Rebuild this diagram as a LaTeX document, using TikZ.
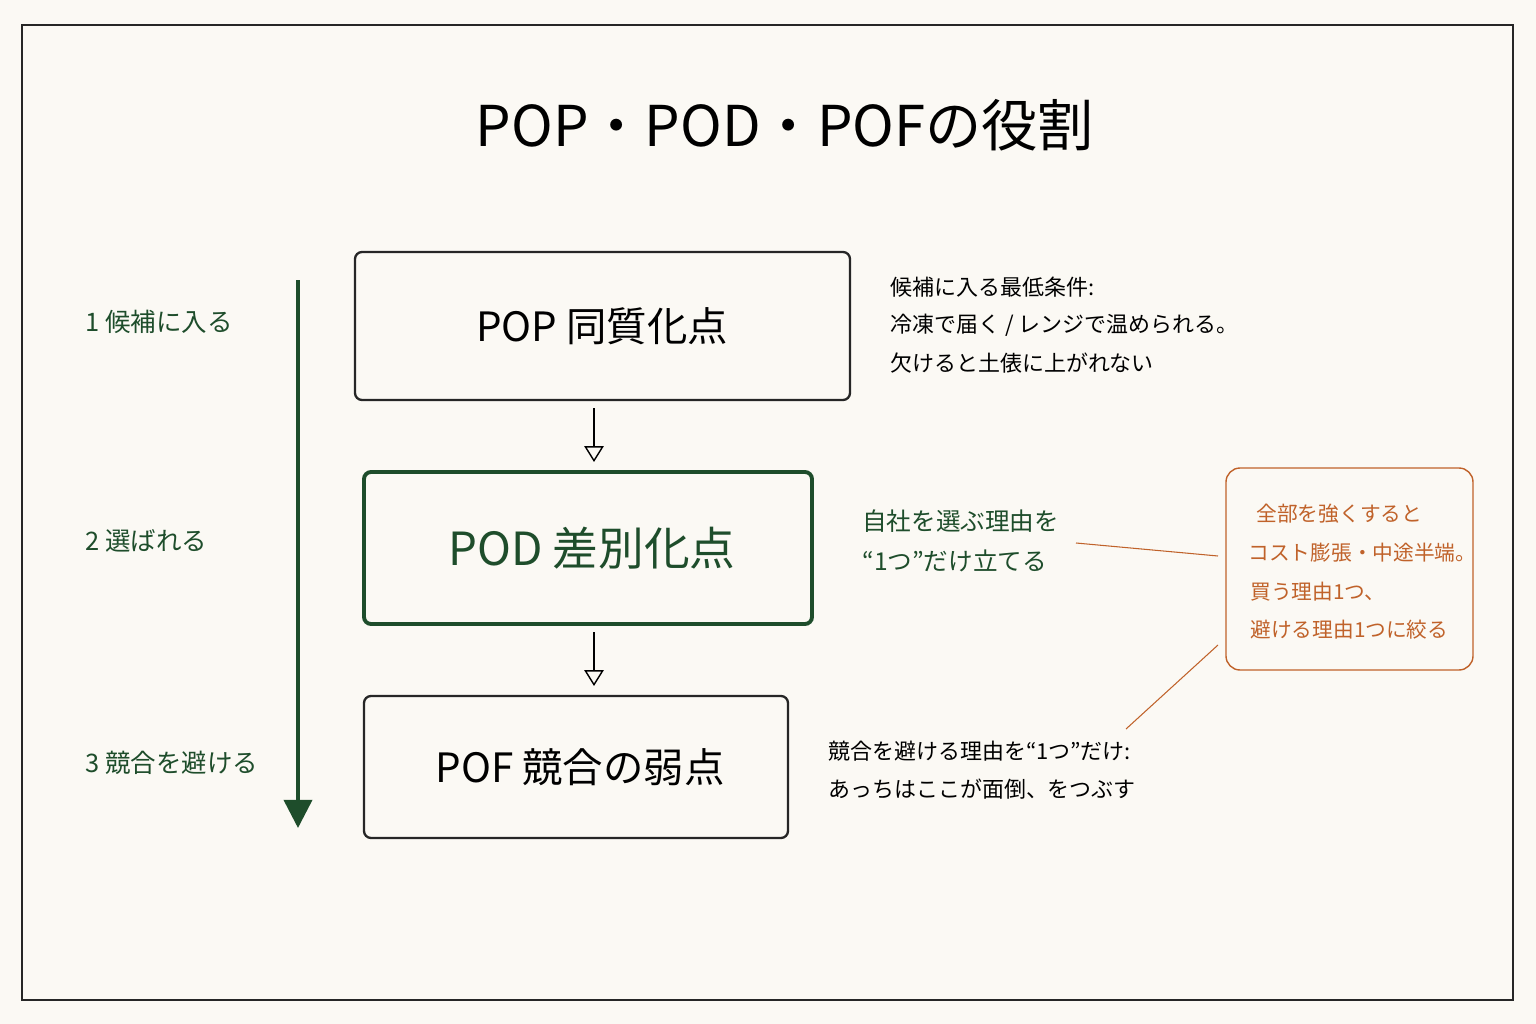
\documentclass[tikz,border=0pt]{standalone}
\usepackage{fontspec}
\setmainfont{Noto Sans CJK JP}
\usetikzlibrary{arrows.meta}
\definecolor{dkgreen}{HTML}{1E4D2B}
\definecolor{rust}{HTML}{C0622A}
\definecolor{paper}{HTML}{FBF9F4}
\tikzset{
  box/.style={draw=black!85, line width=1.3pt, rounded corners=4pt},
  desc/.style={anchor=west, font=\fontsize{12.5}{15}\selectfont, inner sep=0pt},
  note/.style={anchor=west, font=\fontsize{11.8}{14}\selectfont, text=rust, inner sep=0pt},
  stage/.style={anchor=west, font=\fontsize{14.5}{18}\selectfont, text=dkgreen, inner sep=0pt},
  flow/.style={-{Triangle[open,length=9pt,width=11pt]}, line width=0.8pt}
}
\begin{document}
\begin{tikzpicture}[x=0.02cm,y=-0.02cm]
    % Background and frame
    \fill[paper] (0,0) rectangle (1536,1024);
    \useasboundingbox (0,0) rectangle (1536,1024);
    \draw[black!85, line width=0.8pt] (22,25) rectangle (1513,1000);

    % Title
    \node (title) at (785,125) {\fontsize{32}{36}\selectfont POP・POD・POFの役割};

    % Main boxes
    \draw[box] (355,252) rectangle (850,400);
    \node (pop) at (602,326) {\fontsize{23}{26}\selectfont POP 同質化点};
    \draw[box, draw=dkgreen, line width=2.2pt] (364,472) rectangle (812,624);
    \node[text=dkgreen] (pod) at (592,548) {\fontsize{26}{28}\selectfont POD 差別化点};
    \draw[box] (364,696) rectangle (788,838);
    \node (pof) at (580,767) {\fontsize{23}{26}\selectfont POF 競合の弱点};

    % Connectors between boxes
    \coordinate (a1) at (594,408); \coordinate (b1) at (594,462);
    \coordinate (a2) at (594,632); \coordinate (b2) at (594,686);
    \draw[flow] (a1) -- (b1);
    \draw[flow] (a2) -- (b2);

    % Stage arrow
    \coordinate (s0) at (298,280); \coordinate (s1) at (298,828);
    \draw[dkgreen, line width=2pt, -{Triangle[length=16pt,width=16pt]}] (s0) -- (s1);
    \node[stage] (st1) at (85,322) {1 候補に入る};
    \node[stage] (st2) at (85,541) {2 選ばれる};
    \node[stage] (st3) at (85,763) {3 競合を避ける};

    % Descriptions
    \node[desc] (d1) at (890,287) {候補に入る最低条件:};
    \node[desc] (d2) at (890,325) {冷凍で届く / レンジで温められる。};
    \node[desc] (d3) at (890,363) {欠けると土俵に上がれない};
    \node[desc, text=dkgreen, font=\fontsize{14}{17}\selectfont] (e1) at (862,521) {自社を選ぶ理由を};
    \node[desc, text=dkgreen, font=\fontsize{14}{17}\selectfont] (e2) at (862,561) {“1つ”だけ立てる};
    \node[desc] (f1) at (828,751) {競合を避ける理由を“1つ”だけ:};
    \node[desc] (f2) at (828,789) {あっちはここが面倒、をつぶす};

    % Note box
    \draw[rust, line width=0.8pt, rounded corners=8pt] (1226,468) rectangle (1473,670);
    \node[note] (g1) at (1256,514) {全部を強くすると};
    \node[note] (g2) at (1248,553) {コスト膨張・中途半端。};
    \node[note] (g3) at (1250,592) {買う理由1つ、};
    \node[note] (g4) at (1250,630) {避ける理由1つに絞る};
    \coordinate (n1) at (1076,543); \coordinate (n2) at (1218,556);
    \coordinate (n3) at (1218,645); \coordinate (n4) at (1126,729);
    \draw[rust, line width=0.6pt] (n1) -- (n2);
    \draw[rust, line width=0.6pt] (n3) -- (n4);
\end{tikzpicture}
\end{document}
